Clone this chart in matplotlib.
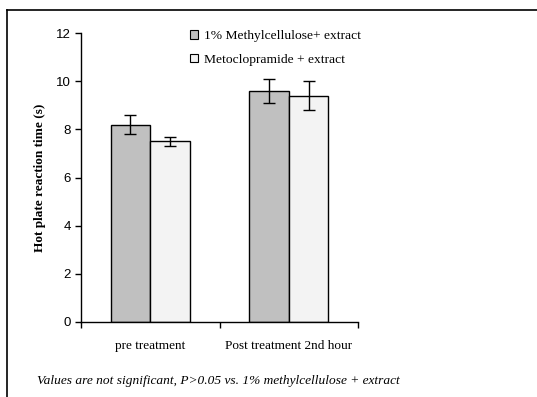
import numpy as np
import matplotlib
matplotlib.use("Agg")
import matplotlib.pyplot as plt
from matplotlib.patches import Patch
from matplotlib.lines import Line2D

# data
categories = ["pre treatment", "Post treatment 2nd hour"]
series_names = ["1% Methylcellulose+ extract", "Metoclopramide + extract"]
methylcellulose = [8.2, 9.6]
methylcellulose_err = [0.4, 0.5]
metoclopramide = [7.5, 9.4]
metoclopramide_err = [0.2, 0.6]
yticks = [0, 2, 4, 6, 8, 10, 12]

fig = plt.figure(figsize=(5.37, 3.97), dpi=100)
ax = fig.add_axes([81/537, 1 - 322/397, (358 - 81)/537, (322 - 33)/397])

x = np.arange(len(categories))
w = 0.286
ax.bar(x - w/2, methylcellulose, w, color="#c0c0c0", edgecolor="black", linewidth=1.0,
       yerr=methylcellulose_err, capsize=4, error_kw=dict(elinewidth=1, capthick=1))
ax.bar(x + w/2, metoclopramide, w, color="#f3f3f3", edgecolor="black", linewidth=1.0,
       yerr=metoclopramide_err, capsize=4, error_kw=dict(elinewidth=1, capthick=1))

ax.set_xlim(-0.5, 1.5)
ax.set_ylim(0, 12)
ax.set_yticks(yticks)
ax.set_yticklabels([str(t) for t in yticks], family="Liberation Sans", fontsize=9.5)
ax.set_xticks([-0.5, 0.5, 1.5])
ax.set_xticks(x, minor=True)
ax.set_xticklabels([])
ax.set_xticklabels(categories, minor=True, family="Liberation Serif", fontsize=9.5)
ax.tick_params(axis="x", which="major", direction="out", length=4, width=1)
ax.tick_params(axis="x", which="minor", length=0, pad=13)
ax.tick_params(axis="y", direction="out", length=4, width=1)
for side in ["top", "right"]:
    ax.spines[side].set_visible(False)
ax.spines["left"].set_linewidth(1)
ax.spines["bottom"].set_linewidth(1)

ax.set_ylabel("Hot plate reaction time (s)", family="Liberation Serif", fontweight="bold",
              fontsize=9.5, labelpad=7)

handles = [Patch(facecolor="#c0c0c0", edgecolor="black", linewidth=0.8),
           Patch(facecolor="#f3f3f3", edgecolor="black", linewidth=0.8)]
leg = ax.legend(handles, series_names, loc="upper left", bbox_to_anchor=(0.351, 1.052),
                frameon=False, handlelength=0.6, handleheight=0.6, handletextpad=0.4,
                labelspacing=0.85, prop=dict(family="Liberation Serif", size=9.7))

fig.text(37/537, 1 - 381/397, "Values are not significant, P>0.05 vs. 1% methylcellulose + extract",
         family="Liberation Serif", style="italic", fontsize=9.6, va="center")

# outer frame (top and left edges only)
fig.add_artist(Line2D([7/537, 1.0], [1 - 10/397, 1 - 10/397], color="black", linewidth=1.2))
fig.add_artist(Line2D([7/537, 7/537], [0, 1 - 10/397], color="black", linewidth=1.2))

fig.savefig("out.png", dpi=100)
